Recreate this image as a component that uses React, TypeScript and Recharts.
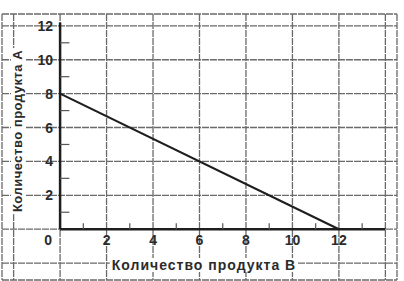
import { LineChart, Line, XAxis, YAxis, CartesianGrid, ReferenceLine } from 'recharts';

// grid positions, labelled ticks and the single line
const xGrid = [-2, 0, 2, 4, 6, 8, 10, 12, 14];
const yGrid = [-2, 0, 2, 4, 6, 8, 10, 12];
const xLabels = [0, 2, 4, 6, 8, 10, 12];
const yLabels = [2, 4, 6, 8, 10, 12];
const xMinor = [1, 3, 5, 7, 9, 11, 13];
const yMinor = [1, 3, 5, 7, 9, 11];
const productB = [0, 12];
const productA = [8, 0];

const xTitle = 'Количество продукта В';
const yTitle = 'Количество продукта А';

const lineData = productB.map((b, i) => ({ b, a: productA[i] }));

const FONT = '"Liberation Sans", Arial, sans-serif';
const INK = '#2b2b2b';

function renderXTick(p: any) {
  const v = p.payload.value;
  if (!xLabels.includes(v)) return <g />;
  return (
    <text x={p.x + (v === 0 ? -12 : 0)} y={p.y - 35} textAnchor="middle" fontFamily={FONT} fontWeight="bold" fontSize={14} fill={INK}>
      {v}
    </text>
  );
}

function renderYTick(p: any) {
  const v = p.payload.value;
  if (!yLabels.includes(v)) return <g />;
  return (
    <text x={p.x + 51} y={p.y + 5} textAnchor="end" fontFamily={FONT} fontWeight="bold" fontSize={14} fill={INK}>
      {v}
    </text>
  );
}

const titleStyle = {
  position: 'absolute' as const,
  transform: 'translate(-50%, -50%)',
  background: '#fff',
  padding: '0 2px',
  fontFamily: FONT,
  fontWeight: 'bold' as const,
  color: INK,
  whiteSpace: 'nowrap' as const,
  lineHeight: '14px',
};

export default function App() {
  return (
    <div style={{ position: 'absolute', left: 0, top: 0, width: 404, height: 281, background: '#fff' }}>
      <LineChart width={404} height={281} data={lineData} margin={{ top: 14, right: 7, left: 1, bottom: 0 }}>
        <CartesianGrid stroke="#6a6a6a" strokeWidth={1.3} strokeDasharray="7 1" />
        <XAxis
          dataKey="b"
          type="number"
          domain={[-2.5, 14.5]}
          ticks={xGrid}
          height={1}
          axisLine={false}
          tickLine={false}
          tickSize={0}
          tickMargin={0}
          tick={renderXTick}
          interval={0}
        />
        <YAxis
          type="number"
          domain={[-3, 12.7]}
          ticks={yGrid}
          width={1}
          axisLine={false}
          tickLine={false}
          tickSize={0}
          tickMargin={0}
          tick={renderYTick}
          interval={0}
        />
        <ReferenceLine segment={[{ x: 0, y: 0 }, { x: 0, y: 12.2 }]} stroke="#1e1e1e" strokeWidth={2.5} />
        <ReferenceLine segment={[{ x: 0, y: 0 }, { x: 14, y: 0 }]} stroke="#1e1e1e" strokeWidth={2.5} />
        {xMinor.map(m => (
          <ReferenceLine key={'mx' + m} segment={[{ x: m, y: 0 }, { x: m, y: 0.35 }]} stroke="#555" strokeWidth={1.2} />
        ))}
        {yMinor.map(m => (
          <ReferenceLine key={'my' + m} segment={[{ x: 0, y: m }, { x: 0.4, y: m }]} stroke="#555" strokeWidth={1.2} />
        ))}
        <Line dataKey="a" stroke="#1e1e1e" strokeWidth={2.2} dot={false} isAnimationActive={false} />
      </LineChart>
      <div style={{ ...titleStyle, left: 204, top: 265, fontSize: 14, letterSpacing: 1 }}>{xTitle}</div>
      <div style={{ ...titleStyle, left: 18, top: 131, fontSize: 13, letterSpacing: 0.5, transform: 'translate(-50%, -50%) rotate(-90deg)' }}>
        {yTitle}
      </div>
    </div>
  );
}
